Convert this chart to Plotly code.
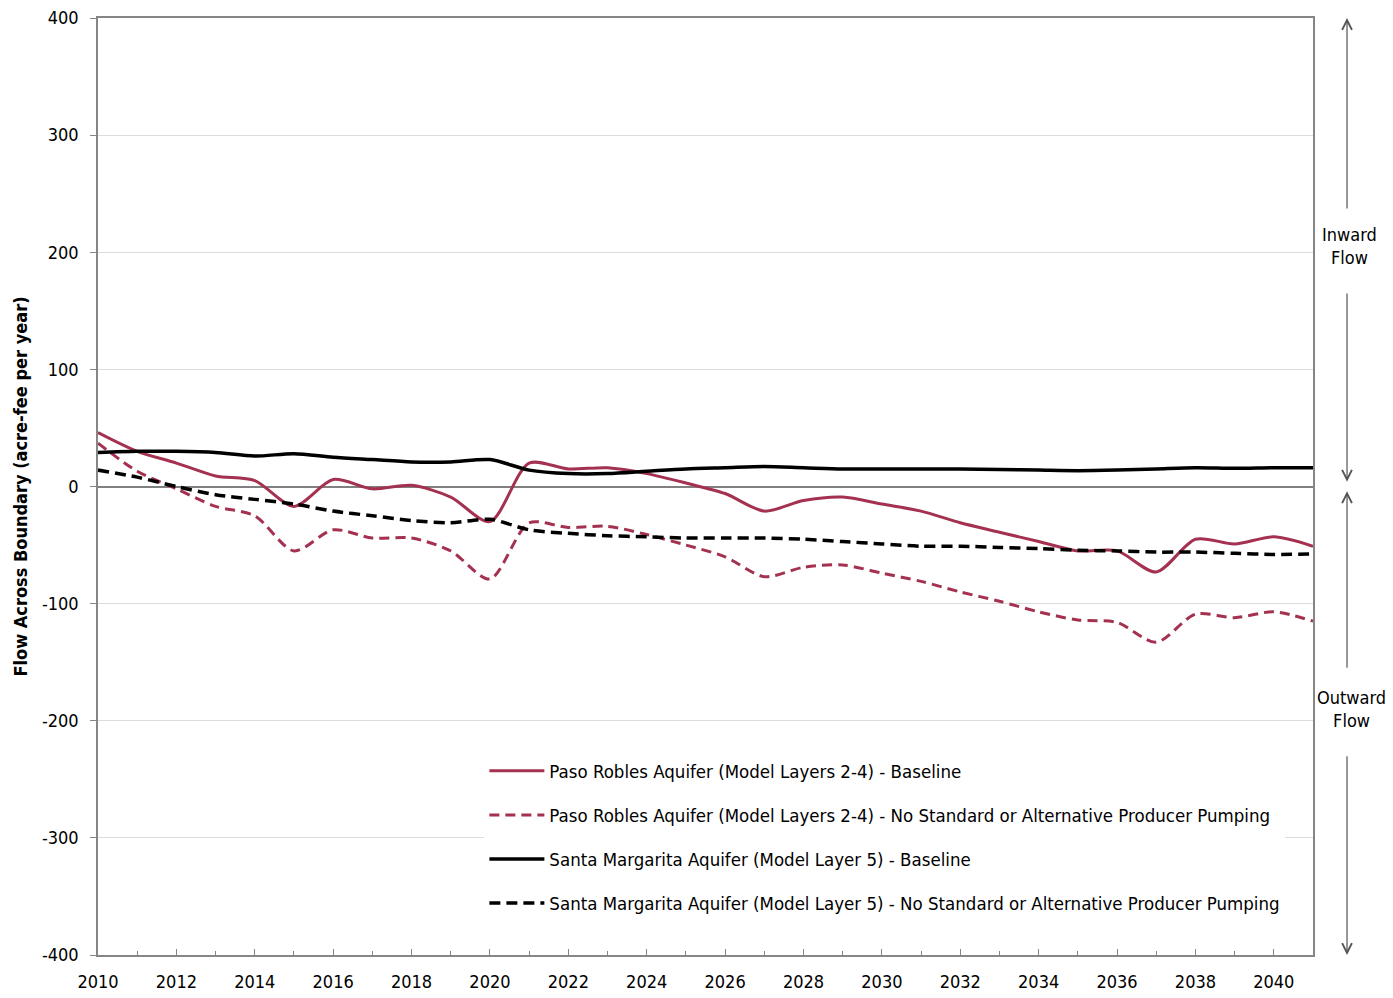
import plotly.graph_objects as go

years = list(range(2010, 2042))

paso_baseline = [46, 30, 20, 9, 5, -17, 6, -2, 1, -9, -30, 20, 15, 16, 11, 3,
                 -6, -21, -12, -9, -15, -21, -31, -39, -47, -55, -55, -73, -45, -49, -43, -51]
paso_nostd = [37, 13, -2, -17, -25, -55, -37, -44, -44, -55, -79, -31, -35, -34, -41, -50,
              -60, -77, -69, -67, -74, -81, -90, -98, -107, -114, -116, -133, -109, -112, -107, -115]
sm_baseline = [29, 30, 30, 29, 26, 28, 25, 23, 21, 21, 23, 14, 11, 11, 13, 15,
               16, 17, 16, 15, 15, 15, 15, 14.5, 14, 13.5, 14, 15, 16, 15.5, 16, 16]
sm_nostd = [14, 8, 0, -7, -11, -15, -21, -25, -29, -31, -28, -37, -40, -42, -43, -44,
            -44, -44, -45, -47, -49, -51, -51, -52, -53, -54.5, -55, -56, -56, -57, -58, -57.5]

series_names = [
    "Paso Robles Aquifer (Model Layers 2-4) - Baseline",
    "Paso Robles Aquifer (Model Layers 2-4) - No Standard or Alternative Producer Pumping",
    "Santa Margarita Aquifer (Model Layer 5) - Baseline",
    "Santa Margarita Aquifer (Model Layer 5) - No Standard or Alternative Producer Pumping",
]

y_tickvals = [400, 300, 200, 100, 0, -100, -200, -300, -400]
y_ticktext = ["400", "300", "200", "100", "0", "-100", "-200", "-300", "-400"]

RED = "#A3314F"
BLACK = "#000000"
FONT = "DejaVu Sans Condensed, Liberation Sans Narrow, Arial Narrow, Liberation Sans, Arial, sans-serif"

fig = go.Figure()
styles = [
    (paso_baseline, RED, "solid", 3),
    (paso_nostd, RED, "10px,6px", 3),
    (sm_baseline, BLACK, "solid", 3.5),
    (sm_nostd, BLACK, "11px,6px", 3.5),
]
for i, (vals, col, dash, w) in enumerate(styles):
    fig.add_trace(go.Scatter(
        x=years, y=vals, mode="lines", name=series_names[i],
        line=dict(color=col, dash=dash, width=w, shape="spline", smoothing=0.8),
        legendgroup=f"g{i}",
    ))

fig.update_layout(
    width=1385, height=990,
    margin=dict(l=90, r=80, t=10, b=43, autoexpand=False),
    plot_bgcolor="white", paper_bgcolor="white",
    font=dict(family=FONT, size=18, color="#000000"),
    showlegend=True,
    legend=dict(
        x=0.318, y=0.2163, xanchor="left", yanchor="top",
        bgcolor="white", borderwidth=0,
        font=dict(family=FONT, size=18.5, color="#000000"),
        tracegroupgap=17, itemwidth=55,
    ),
    xaxis=dict(
        range=[2010, 2041], dtick=2, tick0=2010,
        showgrid=False, zeroline=False,
        showline=True, linecolor="#868686", linewidth=1.5, mirror=True,
        ticks="inside", ticklen=6, tickcolor="#868686",
        minor=dict(dtick=1, ticks="inside", ticklen=4, tickcolor="#868686"),
        tickfont=dict(family=FONT, size=18), ticklabelstandoff=10,
        ticklabeloverflow="allow",
    ),
    yaxis=dict(
        range=[-400, 400], tickmode="array", tickvals=y_tickvals, ticktext=y_ticktext,
        showgrid=True, gridcolor="#dcdcdc", gridwidth=1,
        zeroline=True, zerolinecolor="#808080", zerolinewidth=1.5,
        showline=True, linecolor="#868686", linewidth=1.5, mirror=True,
        ticks="outside", ticklen=6, tickcolor="#868686",
        tickfont=dict(family=FONT, size=18), ticklabelstandoff=8,
        ticklabeloverflow="allow",
        title=dict(text="<b>Flow Across Boundary (acre-fee per year)</b>",
                   font=dict(family=FONT, size=18), standoff=10),
    ),
)

AX = 1.028
arrow_kw = dict(xref="paper", yref="y", axref="pixel", ayref="y", ax=0,
                showarrow=True, arrowhead=5, arrowsize=1.6, arrowwidth=1.2,
                arrowcolor="#555555", text="")
# Inward arrows
fig.add_annotation(x=AX, y=400, ay=236, **arrow_kw)
fig.add_annotation(x=AX, y=4, ay=166, **arrow_kw)
# Outward arrows
fig.add_annotation(x=AX, y=-4, ay=-156, **arrow_kw)
fig.add_annotation(x=AX, y=-400, ay=-229, **arrow_kw)

fig.add_annotation(x=AX + 0.002, y=205, xref="paper", yref="y", showarrow=False,
                   xanchor="center", yanchor="middle",
                   text="Inward<br>Flow", font=dict(family=FONT, size=18),
                   align="center")
fig.add_annotation(x=AX + 0.004, y=-190, xref="paper", yref="y", showarrow=False,
                   xanchor="center", yanchor="middle",
                   text="Outward<br>Flow", font=dict(family=FONT, size=18),
                   align="center")

fig.write_html("out.html")
